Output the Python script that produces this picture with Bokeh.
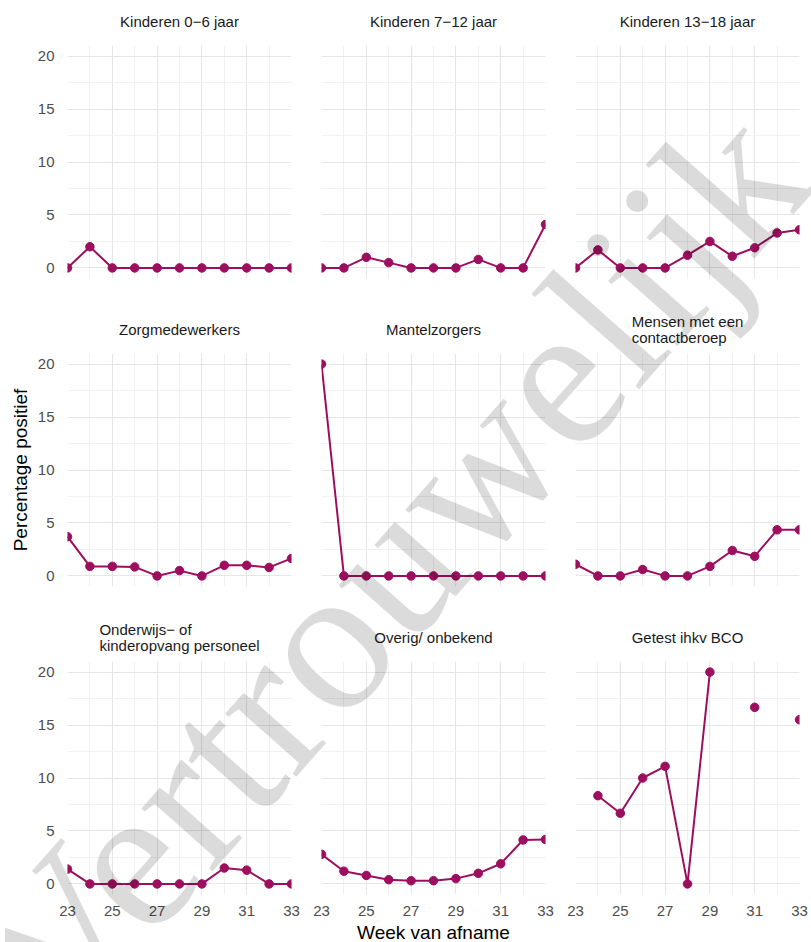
import math
from bokeh.plotting import figure
from bokeh.layouts import gridplot, column
from bokeh.models import Range1d, FixedTicker, Div, GlobalInlineStyleSheet
from bokeh.embed import file_html
from bokeh.resources import INLINE

nan = float("nan")

# ---------------- data ----------------
weeks = [23, 24, 25, 26, 27, 28, 29, 30, 31, 32, 33]
x_ticks = [23, 25, 27, 29, 31, 33]
x_minor = [24, 26, 28, 30, 32]
y_ticks = [0, 5, 10, 15, 20]
y_minor = [2.5, 7.5, 12.5, 17.5]

titles = [
    "Kinderen 0\u22126 jaar",
    "Kinderen 7\u221212 jaar",
    "Kinderen 13\u221218 jaar",
    "Zorgmedewerkers",
    "Mantelzorgers",
    "Mensen met een\ncontactberoep",
    "Onderwijs\u2212 of\nkinderopvang personeel",
    "Overig/ onbekend",
    "Getest ihkv BCO",
]

kinderen_0_6 = [0, 2.0, 0, 0, 0, 0, 0, 0, 0, 0, 0]
kinderen_7_12 = [0, 0, 1.0, 0.5, 0, 0, 0, 0.8, 0, 0, 4.1]
kinderen_13_18 = [0, 1.7, 0, 0, 0, 1.2, 2.5, 1.1, 1.9, 3.3, 3.6]
zorgmedewerkers = [3.7, 0.9, 0.9, 0.85, 0, 0.5, 0, 1.0, 1.0, 0.8, 1.65]
mantelzorgers = [20.0, 0, 0, 0, 0, 0, 0, 0, 0, 0, 0]
contactberoep = [1.1, 0, 0, 0.6, 0, 0, 0.9, 2.4, 1.85, 4.35, 4.35]
onderwijs = [1.4, 0, 0, 0, 0, 0, 0, 1.5, 1.3, 0, 0]
overig = [2.8, 1.2, 0.8, 0.4, 0.3, 0.3, 0.5, 1.0, 1.9, 4.15, 4.2]
bco = [nan, 8.33, 6.67, 10.0, 11.1, 0, 20.0, nan, 16.67, nan, 15.5]

series = [kinderen_0_6, kinderen_7_12, kinderen_13_18,
          zorgmedewerkers, mantelzorgers, contactberoep,
          onderwijs, overig, bco]

watermark = "Vertrouwelijk"

# ---------------- styling / layout ----------------
COLOR = "#9E0E5E"
FONT = "Liberation Sans"
FW, FH = 224, 233
col_borders = [(67, 15), (15, 15), (15, 12)]     # (left, right)
row_borders = [(45, 26), (48, 26), (48, 50)]     # (top, bottom)

rows = []
for r in range(3):
    row = []
    for c in range(3):
        i = r * 3 + c
        L, R = col_borders[c]
        T, B = row_borders[r]
        p = figure(frame_width=FW, frame_height=FH,
                   x_range=Range1d(23, 33), y_range=Range1d(-1, 21),
                   output_backend="svg", toolbar_location=None,
                   min_border_left=L, min_border_right=R,
                   min_border_top=T, min_border_bottom=B,
                   outline_line_color=None,
                   background_fill_color="white", border_fill_color="white")
        two_line = "\n" in titles[i]
        p.title.align = "center"
        p.title.text_font = FONT
        p.title.text_font_size = "15px"
        p.title.text_font_style = "normal"
        p.title.text_color = "#1a1a1a"
        if two_line:
            p.title.text = titles[i]
            p.title.text_line_height = 0.95
            p.title.standoff = 14
        else:
            # strip text centred in a strip of the same height as the others
            p.title.text = titles[i] + "\n\u00a0"
            p.title.text_line_height = 0.9
            p.title.standoff = 0

        xt = FixedTicker(ticks=x_ticks, minor_ticks=x_minor)
        yt = FixedTicker(ticks=y_ticks, minor_ticks=y_minor)
        p.xaxis.ticker = xt
        p.yaxis.ticker = yt
        p.xgrid.ticker = xt
        p.ygrid.ticker = yt
        for g in (p.xgrid, p.ygrid):
            g.grid_line_color = "#e6e6e6"
            g.grid_line_width = 1.1
            g.minor_grid_line_color = "#ededed"
            g.minor_grid_line_width = 0.8

        for ax in (p.xaxis, p.yaxis):
            ax.axis_line_color = None
            ax.major_tick_line_color = None
            ax.minor_tick_line_color = None
            ax.major_tick_out = 0
            ax.minor_tick_out = 0
            ax.major_tick_in = 0
            ax.minor_tick_in = 0
            ax.major_label_text_font = FONT
            ax.major_label_text_font_size = "15px"
            ax.major_label_text_color = "#4d4d4d"
            ax.axis_label_text_font = FONT
            ax.axis_label_text_font_size = "19px"
            ax.axis_label_text_font_style = "normal"
            ax.axis_label_text_color = "#000000"
        p.xaxis.major_label_standoff = 11
        p.yaxis.major_label_standoff = 13

        if r == 2:
            p.xaxis.visible = True
            if c == 1:
                p.xaxis.axis_label = "Week van afname"
                p.xaxis.axis_label_standoff = 3
        else:
            p.xaxis.visible = False
        if c == 0:
            p.yaxis.visible = True
            if r == 1:
                p.yaxis.axis_label = "Percentage positief"
                p.yaxis.axis_label_standoff = 4
        else:
            p.yaxis.visible = False

        p.line(weeks, series[i], line_color=COLOR, line_width=2)
        p.scatter(weeks, series[i], size=8.5, fill_color=COLOR,
                  line_color=COLOR, line_width=1)
        row.append(p)
    rows.append(row)

grid = gridplot(rows, toolbar_location=None)

# watermark overlay across the whole chart
WM_X, WM_Y, WM_SIZE, WM_ANGLE = 60, 1033, 207, 48.5
wm_svg = (
    '<svg xmlns="http://www.w3.org/2000/svg" width="811" height="942" '
    'style="position:absolute;left:0;top:0;pointer-events:none;overflow:hidden">'
    f'<text x="{WM_X}" y="{WM_Y}" transform="rotate(-{WM_ANGLE} {WM_X} {WM_Y})" '
    f'style="font-family:\'Liberation Serif\',\'DejaVu Serif\',serif;'
    f'font-size:{WM_SIZE}px;font-weight:normal;fill:#000000;fill-opacity:0.14">'
    f'{watermark}</text></svg>'
)
wm_div = Div(text=wm_svg, width=811, height=942,
             styles={"position": "absolute", "left": "0px", "top": "0px",
                     "pointer-events": "none", "z-index": "10"})

layout = column(grid, wm_div)
layout.stylesheets = [GlobalInlineStyleSheet(css="html, body { overflow: hidden; }")]

open("out.html", "w").write(file_html(layout, INLINE))
